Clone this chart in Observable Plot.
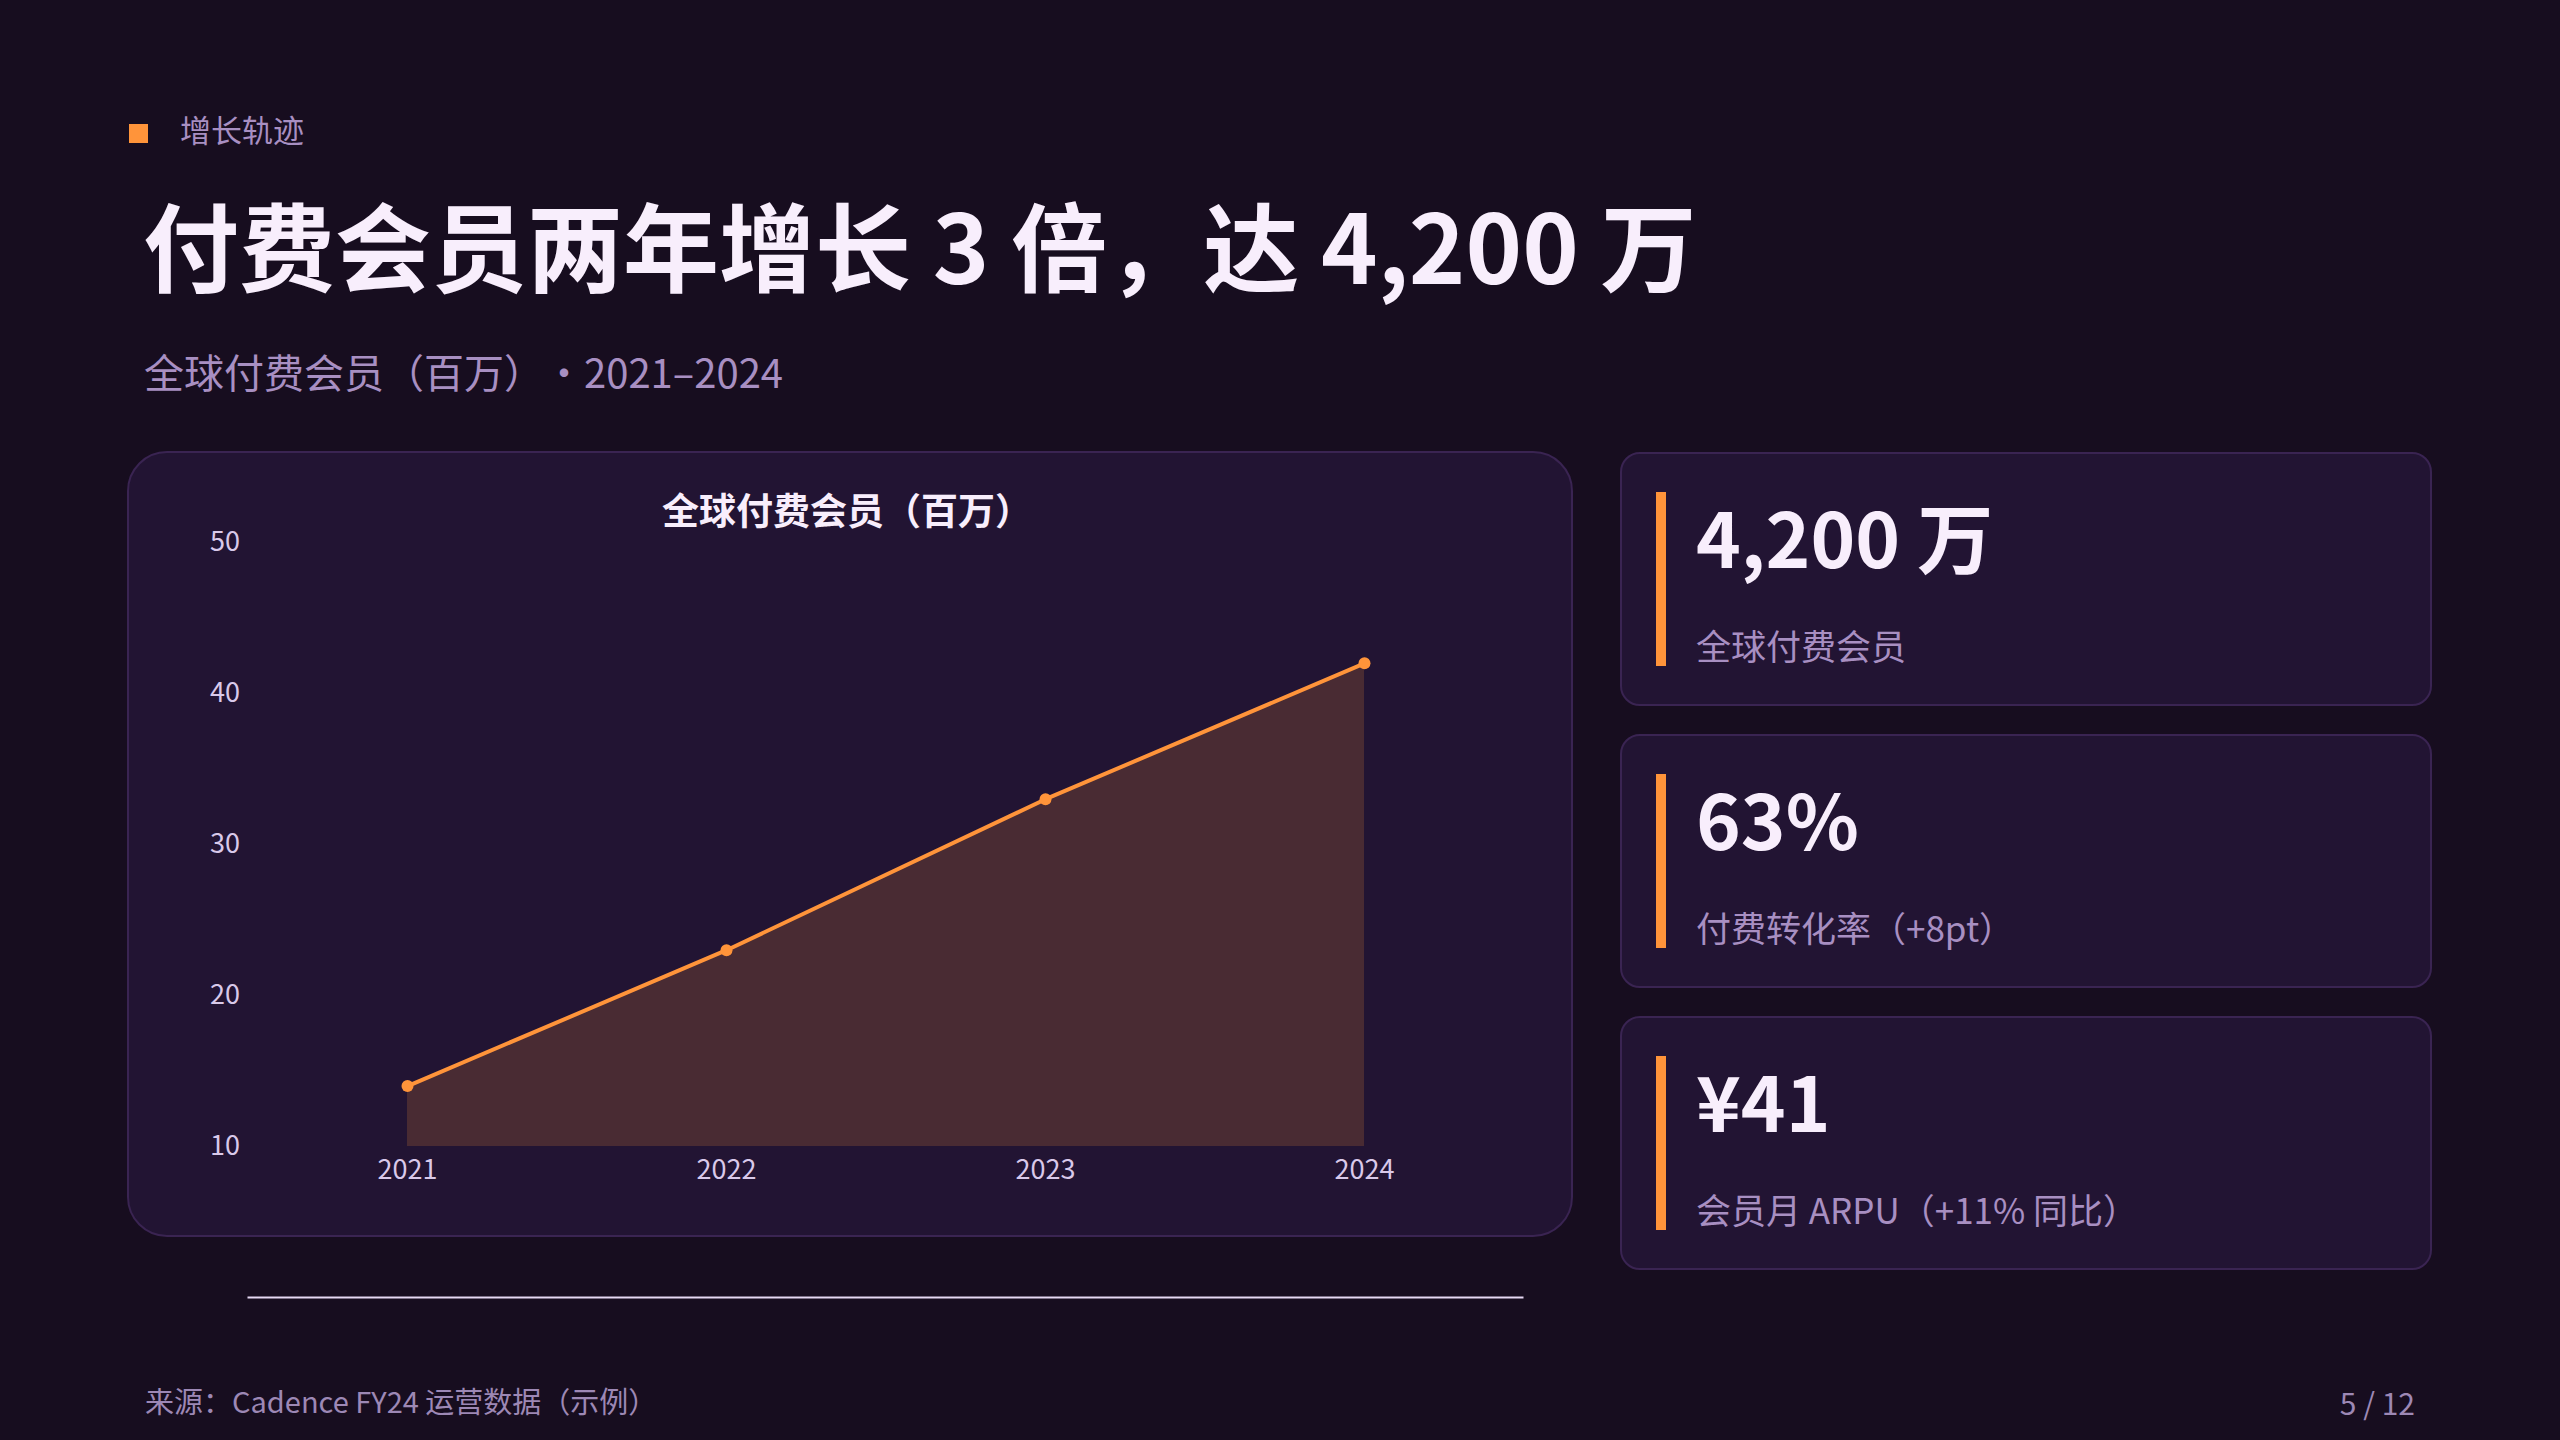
<!DOCTYPE html>
<html lang="zh-CN">
<head>
<meta charset="utf-8">
<script src="https://cdn.jsdelivr.net/npm/d3@7"></script>
<script src="https://cdn.jsdelivr.net/npm/@observablehq/plot@0.6"></script>
<style>
  html, body { margin: 0; padding: 0; }
  body {
    width: 2560px; height: 1440px; overflow: hidden; position: relative;
    background: #170d1f;
    font-family: "Noto Sans CJK SC", "Noto Sans", sans-serif;
    text-spacing-trim: space-all;
  }
  .abs { position: absolute; white-space: nowrap; line-height: 1; }
  .card {
    position: absolute; box-sizing: border-box;
    background: #221433; border: 2px solid #3a2452;
  }
  .kpi .bar { position: absolute; left: 34px; top: 38px; width: 10px; height: 174px; background: #ff943a; }
  .kpi .num { position: absolute; left: 74px; top: 43px; font-size: 76px; font-weight: 700; color: #f8eefc; line-height: 1; white-space: nowrap; }
  .kpi .lab { position: absolute; left: 74px; top: 173px; font-size: 35px; color: #a88fc2; line-height: 1; white-space: nowrap; }
  #chart svg { overflow: visible; }
</style>
</head>
<body>
<div class="abs" style="left:129px;top:124px;width:19px;height:19px;background:#ff943a;"></div>
<div class="abs" style="left:180px;top:113px;font-size:31px;color:#a88fc2;">增长轨迹</div>
<div class="abs" style="left:143px;top:195px;font-size:96px;font-weight:700;color:#f8eefc;">付费会员两年增长 3 倍，达 4,200 万</div>
<div class="abs" style="left:144px;top:351px;font-size:40px;color:#a88fc2;">全球付费会员（百万）·2021–2024</div>

<div class="card" style="left:127px;top:451px;width:1446px;height:786px;border-radius:40px;overflow:visible;"></div>
<div class="abs" style="left:547px;top:491px;width:600px;text-align:center;font-size:37px;font-weight:700;color:#f8eefc;">全球付费会员（百万）</div>
<div id="chart" style="position:absolute;left:150px;top:530px;width:1400px;"></div>

<div class="card kpi" style="left:1620px;top:452px;width:812px;height:254px;border-radius:20px;">
  <div class="bar"></div><div class="num">4,200 万</div><div class="lab">全球付费会员</div>
</div>
<div class="card kpi" style="left:1620px;top:734px;width:812px;height:254px;border-radius:20px;">
  <div class="bar"></div><div class="num">63%</div><div class="lab">付费转化率（+8pt）</div>
</div>
<div class="card kpi" style="left:1620px;top:1016px;width:812px;height:254px;border-radius:20px;">
  <div class="bar"></div><div class="num">¥41</div><div class="lab">会员月 ARPU（+11% 同比）</div>
</div>

<div class="abs" style="left:145px;top:1386px;font-size:29px;color:#9d88b5;">来源：Cadence FY24 运营数据（示例）</div>
<div class="abs" style="right:145px;top:1387px;font-size:30px;color:#9d88b5;text-align:right;">5 / 12</div>

<script>
const years = ["2021", "2022", "2023", "2024"];
const members = [14, 23, 33, 42];
const yTicks = [10, 20, 30, 40, 50];
const yDomain = [10, 50];
const baseline = [0];

const ORANGE = "#ff943a";
const data = years.map((year, i) => ({year, value: members[i]}));

const chart = Plot.plot({
  width: 1400,
  height: 666,
  marginLeft: 97.5,
  marginRight: 26.5,
  marginTop: 12,
  marginBottom: 50,
  style: {
    background: "transparent",
    color: "#d9c9ea",
    fontSize: "27px",
    fontFamily: "'Noto Sans CJK SC', 'Noto Sans', sans-serif",
    overflow: "visible"
  },
  x: {type: "point", domain: years, padding: 0.5, label: null, tickSize: 0, tickPadding: 13},
  y: {domain: yDomain, ticks: yTicks, label: null, tickSize: 0, tickPadding: 8},
  marks: [
    Plot.areaY(data, {x: "year", y: "value", fill: ORANGE, fillOpacity: 0.18, clip: true}),
    Plot.ruleY(baseline, {stroke: "#e6d8f3", strokeWidth: 2}),
    Plot.lineY(data, {x: "year", y: "value", stroke: ORANGE, strokeWidth: 4}),
    Plot.dot(data, {x: "year", y: "value", r: 6, fill: ORANGE})
  ]
});
document.getElementById("chart").appendChild(chart);
</script>
</body>
</html>
